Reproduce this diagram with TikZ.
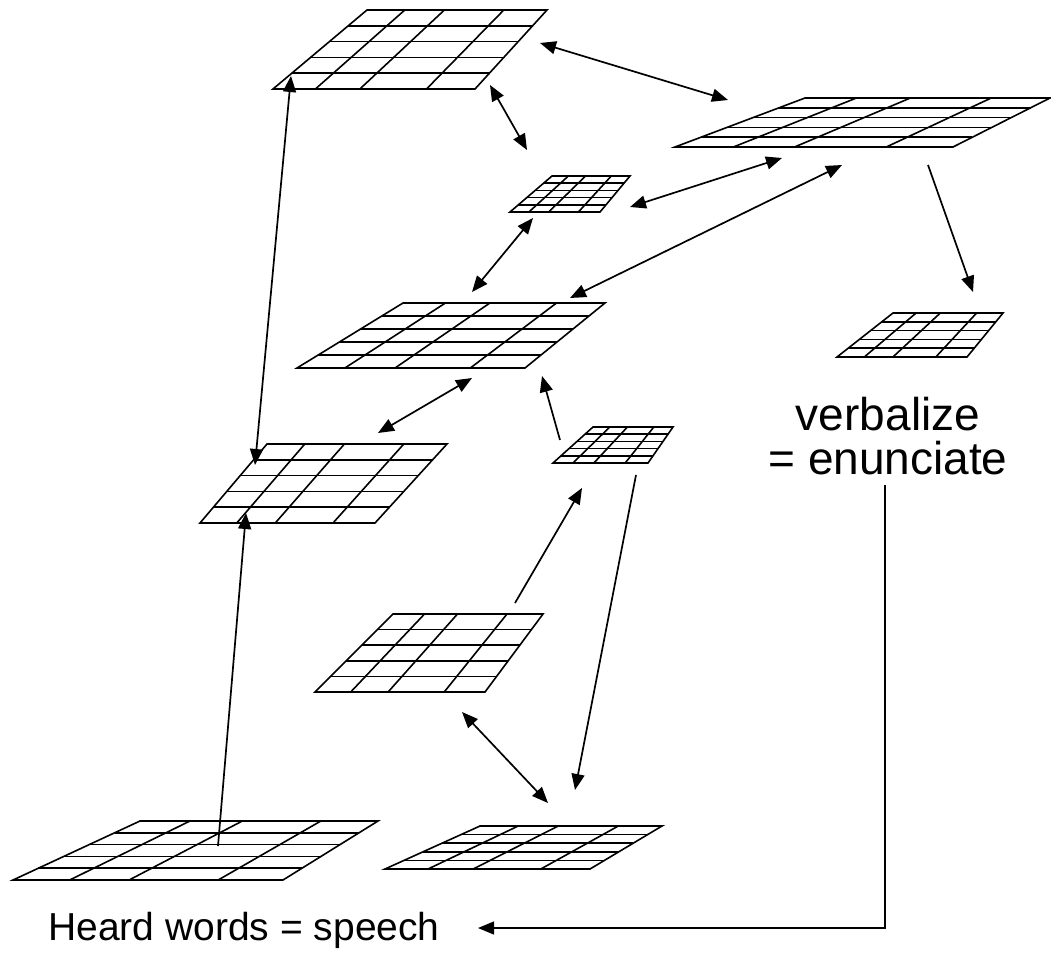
\documentclass[tikz,border=0pt]{standalone}
\usepackage{fontspec}
\setmainfont{Liberation Sans}
\usetikzlibrary{calc,arrows.meta}

\tikzset{
  layer/.style={line width=1.6pt,line join=miter},
  link/.style={line width=1.7pt,-{Triangle[length=16pt,width=13pt]}},
  dlink/.style={line width=1.7pt,{Triangle[length=16pt,width=13pt]}-{Triangle[length=16pt,width=13pt]}},
  caption/.style={inner sep=0pt,align=center}
}

%% one layer: name, bottom left, bottom right, top right, top left
\newcommand{\layer}[5]{%
  \coordinate (#1-bl) at #2;
  \coordinate (#1-br) at #3;
  \coordinate (#1-tr) at #4;
  \coordinate (#1-tl) at #5;
  \draw[layer] (#1-bl) -- (#1-br) -- (#1-tr) -- (#1-tl) -- cycle;
  \foreach \f in {0.2,0.4,0.6,0.8}
    \draw[layer] ($(#1-bl)!\f!(#1-tl)$) -- ($(#1-br)!\f!(#1-tr)$);
  \foreach \f in {0.21,0.43,0.76}
    \draw[layer] ($(#1-bl)!\f!(#1-br)$) -- ($(#1-tl)!\f!(#1-tr)$);
}

\begin{document}
\begin{tikzpicture}[x=1pt,y=-1pt]
        \useasboundingbox (0,0) rectangle (1051,979);
        %% layers
        \layer{top}{(273,89)}{(475,89)}{(547,10)}{(367,10)}
        \layer{wide}{(675,147)}{(953,147)}{(1050,98)}{(805,98)}
        \layer{hub}{(510,212)}{(600,212)}{(630,176)}{(552,176)}
        \layer{mid}{(297,368)}{(525,368)}{(605,303)}{(403,303)}
        \layer{left}{(200,523)}{(375,523)}{(447,444)}{(267,444)}
        \layer{relay}{(553,463)}{(648,463)}{(673,427)}{(593,427)}
        \layer{out}{(837,357)}{(967,357)}{(1003,313)}{(893,313)}
        \layer{low}{(315,692)}{(485,692)}{(543,614)}{(393,614)}
        \layer{ear}{(13,880)}{(283,880)}{(378,821)}{(140,821)}
        \layer{sound}{(385,869)}{(590,869)}{(662,826)}{(480,826)}
        %% arrow ends
        \coordinate (a1) at (540,43);  \coordinate (b1) at (728,100);
        \coordinate (a2) at (490,85);  \coordinate (c1) at (527,150);
        \coordinate (a3) at (291,76);  \coordinate (e1) at (255,465);
        \coordinate (c2) at (630,207); \coordinate (b2) at (782,158);
        \coordinate (c3) at (533,218); \coordinate (d1) at (472,292);
        \coordinate (b3) at (842,165); \coordinate (d2) at (570,298);
        \coordinate (b4) at (928,165); \coordinate (g1) at (973,292);
        \coordinate (d3) at (472,378); \coordinate (e2) at (378,433);
        \coordinate (f1) at (560,440); \coordinate (d4) at (542,376);
        \coordinate (h1) at (515,603); \coordinate (f2) at (582,488);
        \coordinate (f3) at (636,475); \coordinate (j1) at (575,790);
        \coordinate (h2) at (462,712); \coordinate (j2) at (548,803);
        \coordinate (i1) at (218,846); \coordinate (e3) at (246,513);
        %% connectors
        \draw[dlink] (a1) -- (b1);
        \draw[dlink] (a2) -- (c1);
        \draw[dlink] (a3) -- (e1);
        \draw[dlink] (c2) -- (b2);
        \draw[dlink] (c3) -- (d1);
        \draw[dlink] (b3) -- (d2);
        \draw[link] (b4) -- (g1);
        \draw[dlink] (d3) -- (e2);
        \draw[link] (f1) -- (d4);
        \draw[link] (h1) -- (f2);
        \draw[link] (f3) -- (j1);
        \draw[dlink] (h2) -- (j2);
        \draw[link] (i1) -- (e3);
        %% texts
        \node[caption,font=\fontsize{46}{46}\selectfont] (verb) at (888,436) {verbalize\\[-2pt] = enunciate};
        \node[caption,font=\fontsize{39}{39}\selectfont] (heard) at (244,930) {Heard words = speech};
        \coordinate (fb) at (885,485);
        \coordinate (hw) at (478,928);
        \draw[link,line width=1.2pt] (fb) |- (hw);
\end{tikzpicture}
\end{document}
